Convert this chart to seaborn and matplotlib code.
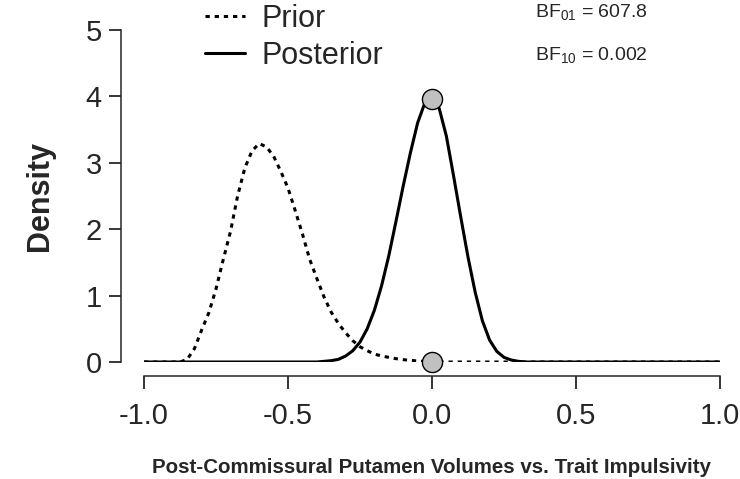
import numpy as np
import pandas as pd
import matplotlib
matplotlib.use("Agg")
import matplotlib.pyplot as plt
import seaborn as sns

# values
prior_x = [-1.0, -0.9, -0.875, -0.85, -0.825, -0.8, -0.775, -0.75, -0.725, -0.7,
           -0.675, -0.65, -0.625, -0.6, -0.575, -0.55, -0.525, -0.5, -0.475,
           -0.45, -0.425, -0.4, -0.375, -0.35, -0.325, -0.3, -0.275, -0.25,
           -0.225, -0.2, -0.175, -0.15, -0.125, -0.1, -0.075, -0.05, -0.025,
           0.0, 0.05, 1.0]
prior_y = [0.0, 0.0, 0.0, 0.04, 0.20, 0.48, 0.74, 1.10, 1.54, 1.96,
           2.50, 2.92, 3.18, 3.29, 3.24, 3.10, 2.87, 2.62, 2.28,
           1.93, 1.55, 1.26, 0.98, 0.75, 0.58, 0.44, 0.32, 0.23,
           0.17, 0.12, 0.09, 0.07, 0.05, 0.035, 0.025, 0.015, 0.008,
           0.003, 0.0, 0.0]

post_x = [-1.0, -0.4, -0.375, -0.35, -0.325, -0.3, -0.275, -0.25, -0.225, -0.2,
          -0.175, -0.15, -0.125, -0.1, -0.075, -0.05, -0.025, -0.0125, 0.0,
          0.025, 0.05, 0.075, 0.1, 0.125, 0.15, 0.175, 0.2, 0.225, 0.25,
          0.275, 0.3, 0.325, 1.0]
post_y = [0.0, 0.0, 0.01, 0.02, 0.04, 0.09, 0.17, 0.30, 0.50, 0.78,
          1.15, 1.60, 2.12, 2.65, 3.15, 3.60, 3.90, 4.0, 3.96,
          3.82, 3.40, 2.80, 2.18, 1.58, 1.05, 0.62, 0.33, 0.16, 0.07,
          0.03, 0.01, 0.0, 0.0]

point_x = [0.0, 0.0]
point_y = [0.003, 3.96]

bf_labels = [r"$\mathregular{BF_{01}}$ = 607.8", r"$\mathregular{BF_{10}}$ = 0.002"]
x_ticks = [-1.0, -0.5, 0.0, 0.5, 1.0]
y_ticks = [0, 1, 2, 3, 4, 5]

prior_df = pd.DataFrame({"x": prior_x, "density": prior_y})
post_df = pd.DataFrame({"x": post_x, "density": post_y})
pts_df = pd.DataFrame({"x": point_x, "density": point_y})

sns.set_style("ticks")
plt.rcParams["font.family"] = ["Liberation Sans", "DejaVu Sans"]

fig = plt.figure(figsize=(7.4, 4.79), dpi=100)
ax = fig.add_axes([144 / 740, 117 / 479, 576 / 740, 332 / 479])

sns.lineplot(data=prior_df, x="x", y="density", ax=ax, color="black",
             linewidth=2.2, linestyle=(0, (1.4, 1.6)), label="Prior")
sns.lineplot(data=post_df, x="x", y="density", ax=ax, color="black",
             linewidth=2.2, label="Posterior")
sns.scatterplot(data=pts_df, x="x", y="density", ax=ax, s=210,
                color="#c0c0c0", edgecolor="black", linewidth=1.0,
                zorder=5, clip_on=False)

ax.set_xlim(-1.0, 1.0)
ax.set_ylim(0, 5)
ax.set_xticks(x_ticks)
ax.set_xticklabels(["-1.0", "-0.5", "0.0", "0.5", "1.0"])
ax.set_yticks(y_ticks)

# R style detached axes
sns.despine(ax=ax)
ax.spines["left"].set_position(("outward", 16.5))
ax.spines["bottom"].set_position(("outward", 10))
ax.spines["left"].set_bounds(0, 5)
ax.spines["bottom"].set_bounds(-1, 1)
for s in ["left", "bottom"]:
    ax.spines[s].set_linewidth(1.1)
ax.tick_params(axis="both", labelsize=21, length=9, width=1.1, color="black")
ax.tick_params(axis="x", pad=10)
ax.tick_params(axis="y", pad=5)

ax.set_xlabel("Post-Commissural Putamen Volumes vs. Trait Impulsivity",
              fontsize=14.8, fontweight="bold", labelpad=20)
ax.set_ylabel("Density", fontsize=22, fontweight="bold", labelpad=22)

leg = ax.legend(loc="upper left", bbox_to_anchor=(0.085, 1.115), frameon=False,
                fontsize=22, handlelength=1.3, labelspacing=0.22,
                handletextpad=0.55, borderaxespad=0)

fig.text(535 / 740, 1 - 12 / 479, bf_labels[0], fontsize=14, va="center")
fig.text(535 / 740, 1 - 55 / 479, bf_labels[1], fontsize=14, va="center")

fig.savefig("out.png", dpi=100)
